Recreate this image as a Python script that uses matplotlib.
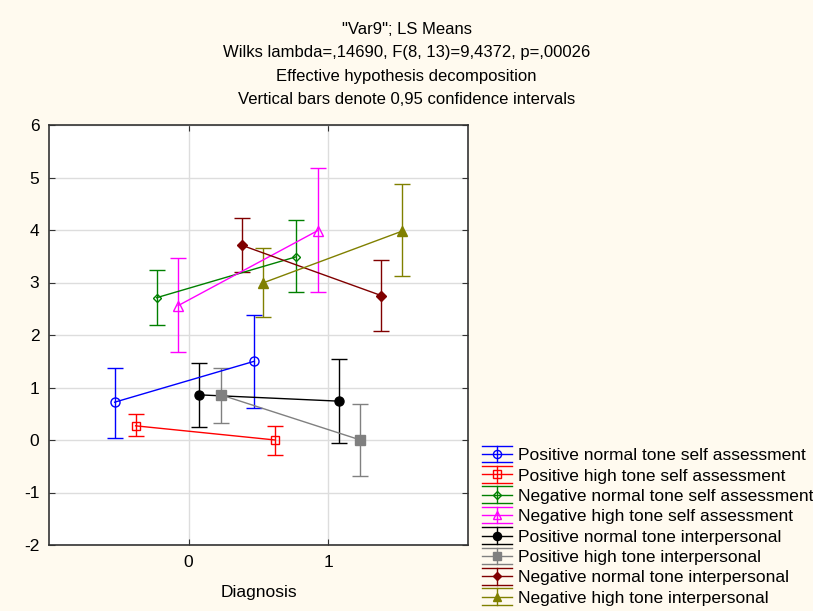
import matplotlib
matplotlib.use("Agg")
import matplotlib.pyplot as plt
from matplotlib.legend_handler import HandlerBase
from matplotlib.lines import Line2D

# LS means, Var9, by Diagnosis (0, 1)
diagnosis = [0, 1]
series_names = [
    "Positive normal tone self assessment",
    "Positive high tone self assessment",
    "Negative normal tone self assessment",
    "Negative high tone self assessment",
    "Positive normal tone interpersonal",
    "Positive high tone interpersonal",
    "Negative normal tone interpersonal",
    "Negative high tone interpersonal",
]
means = [
    [0.72, 1.50],
    [0.27, 0.00],
    [2.71, 3.49],
    [2.56, 3.99],
    [0.86, 0.74],
    [0.86, 0.00],
    [3.71, 2.75],
    [2.99, 3.98],
]
ci_low = [
    [0.04, 0.61],
    [0.07, -0.29],
    [2.20, 2.82],
    [1.68, 2.82],
    [0.25, -0.05],
    [0.33, -0.69],
    [3.20, 2.08],
    [2.34, 3.12],
]
ci_high = [
    [1.38, 2.39],
    [0.50, 0.27],
    [3.23, 4.19],
    [3.47, 5.18],
    [1.46, 1.54],
    [1.38, 0.69],
    [4.22, 3.42],
    [3.66, 4.87],
]
title_lines = [
    "\"Var9\"; LS Means",
    "Wilks lambda=,14690, F(8, 13)=9,4372, p=,00026",
    "Effective hypothesis decomposition",
    "Vertical bars denote 0,95 confidence intervals",
]

# style per series
colors = ["#0000FF", "#FF0000", "#008000", "#FF00FF",
          "#000000", "#808080", "#800000", "#808000"]
markers = ["o", "s", "D", "^", "o", "s", "D", "^"]
filled = [False, False, False, False, True, True, True, True]
msizes = [6.5, 6, 4.5, 6.5, 6.5, 6.5, 5, 6.5]
offsets = [-0.53, -0.38, -0.23, -0.075, 0.075, 0.23, 0.38, 0.53]

bg = "#FFFAEF"
plt.rcParams["font.family"] = ["Liberation Sans", "DejaVu Sans"]
plt.rcParams["axes.unicode_minus"] = False

fig = plt.figure(figsize=(8.13, 6.11), dpi=100, facecolor=bg)
ax = fig.add_axes([49 / 813, 1 - 545 / 611, 419 / 813, 420 / 611])
ax.set_facecolor("white")

for i in range(len(series_names)):
    xs = [d + offsets[i] for d in diagnosis]
    ys = means[i]
    yerr = [[m - lo for m, lo in zip(ys, ci_low[i])],
            [hi - m for m, hi in zip(ys, ci_high[i])]]
    ax.errorbar(xs, ys, yerr=yerr, color=colors[i], lw=1.0,
                elinewidth=1.0, capsize=5.5, capthick=1.0,
                marker=markers[i], ms=msizes[i], mew=1.0,
                mfc=colors[i] if filled[i] else "none",
                mec=colors[i], zorder=3)

ax.set_xlim(-1, 2)
ax.set_ylim(-2, 6)
ax.set_xticks([0, 1])
ax.set_yticks(range(-2, 7))
ax.tick_params(direction="in", top=True, right=True, length=4,
               labelsize=12.5, color="#333333", pad=7)
ax.grid(True, color="#DDDDDD", lw=1.0, zorder=0)
ax.set_axisbelow(True)
for s in ax.spines.values():
    s.set_color("#333333")
    s.set_linewidth(1.2)
ax.set_xlabel("Diagnosis", fontsize=12.5, labelpad=11)

title_y = [30, 53, 76, 99]
for txt, yy in zip(title_lines, title_y):
    fig.text(0.5, 1 - yy / 611, txt, ha="center", va="center", fontsize=12)


class ErrBarHandler(HandlerBase):
    def __init__(self, color, marker, fill, ms):
        super().__init__()
        self.c, self.m, self.f, self.ms = color, marker, fill, ms

    def create_artists(self, legend, orig_handle, xdescent, ydescent,
                       width, height, fontsize, trans):
        yc = height / 2 - ydescent
        dy = 6.0
        x0, x1 = -xdescent, width - xdescent
        xm = width / 2 - xdescent
        arts = [
            Line2D([x0, x1], [yc, yc], color=self.c, lw=1),
            Line2D([x0, x1], [yc + dy, yc + dy], color=self.c, lw=1),
            Line2D([x0, x1], [yc - dy, yc - dy], color=self.c, lw=1),
            Line2D([xm, xm], [yc - dy, yc + dy], color=self.c, lw=1),
            Line2D([xm], [yc], marker=self.m, ms=self.ms * 0.9,
                   mec=self.c, mfc=self.c if self.f else "none", mew=1.0, ls="none"),
        ]
        for a in arts:
            a.set_transform(trans)
        return arts


handles = [Line2D([], [], color=c) for c in colors]
hmap = {h: ErrBarHandler(colors[i], markers[i], filled[i], msizes[i])
        for i, h in enumerate(handles)}
fig.legend(handles, series_names, handler_map=hmap, loc="upper left",
           bbox_to_anchor=(482 / 813, 1 - 448 / 611), frameon=False,
           fontsize=12.5, handlelength=1.72, handletextpad=0.35,
           labelspacing=0.30, borderpad=0, borderaxespad=0)

fig.savefig("out.png", dpi=100, facecolor=bg)
